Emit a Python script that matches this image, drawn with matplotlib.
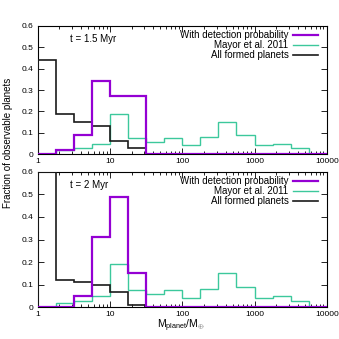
import matplotlib
matplotlib.use('Agg')
import matplotlib.pyplot as plt
from matplotlib.ticker import LogLocator, NullFormatter, FixedLocator

plt.rcParams['font.family'] = ['Liberation Sans', 'DejaVu Sans']
plt.rcParams['mathtext.fontset'] = 'custom'
plt.rcParams['mathtext.rm'] = 'Liberation Sans'

# bin edges in planet mass (Earth masses), 0.25 dex wide
mass_edges = [1, 1.778, 3.162, 5.623, 10, 17.78, 31.62, 56.23, 100,
              177.8, 316.2, 562.3, 1000, 1778, 3162, 5623, 10000]

# Mayor et al. 2011 observed distribution (same in both panels)
mayor = [0, 0.02, 0.03, 0.05, 0.19, 0.077, 0.059, 0.075, 0.042,
         0.08, 0.15, 0.089, 0.042, 0.048, 0.028, 0]

# t = 1.5 Myr
detect_15 = [0, 0.02, 0.088, 0.34, 0.27, 0.27, 0, 0, 0, 0, 0, 0, 0, 0, 0, 0]
formed_15 = [0.44, 0.19, 0.15, 0.13, 0.06, 0.03, 0, 0, 0, 0, 0, 0, 0, 0, 0, 0]

# t = 2 Myr
detect_2 = [0, 0, 0.05, 0.31, 0.49, 0.15, 0, 0, 0, 0, 0, 0, 0, 0, 0, 0]
formed_2 = [0.6, 0.12, 0.11, 0.10, 0.069, 0.009, 0, 0, 0, 0, 0, 0, 0, 0, 0, 0]

panels = [('t = 1.5 Myr', detect_15, formed_15),
          ('t = 2 Myr', detect_2, formed_2)]

purple = '#9400d3'
teal = '#3cc89c'
dark = '#1a1a1a'

fig = plt.figure(figsize=(3.39, 3.39), dpi=100)
ax_top = fig.add_axes([0.111, 0.545, 0.853, 0.379])
ax_bot = fig.add_axes([0.111, 0.0935, 0.853, 0.400])

for ax, (label, detect, formed) in zip([ax_top, ax_bot], panels):
    ax.stairs(detect, mass_edges, color=purple, lw=1.6, zorder=4,
              label='With detection probability')
    ax.stairs(mayor, mass_edges, color=teal, lw=1.0, zorder=2,
              label='Mayor et al. 2011')
    ax.stairs(formed, mass_edges, color=dark, lw=1.2, zorder=3,
              label='All formed planets')

    ax.set_xscale('log')
    ax.set_xlim(1, 10000)
    ax.set_ylim(0, 0.6)
    ax.xaxis.set_major_locator(FixedLocator([1, 10, 100, 1000, 10000]))
    ax.set_xticklabels(['1', '10', '100', '1000', '10000'])
    ax.xaxis.set_minor_locator(LogLocator(base=10, subs=range(2, 10)))
    ax.xaxis.set_minor_formatter(NullFormatter())
    ax.set_yticks([0, 0.1, 0.2, 0.3, 0.4, 0.5, 0.6])
    ax.set_yticklabels(['0', '0.1', '0.2', '0.3', '0.4', '0.5', '0.6'])
    ax.tick_params(which='both', direction='in', top=True, right=True,
                   labelsize=6, pad=3, width=0.6)
    ax.tick_params(which='major', length=4)
    ax.tick_params(which='minor', length=2)
    for s in ax.spines.values():
        s.set_linewidth(0.8)

    ax.text(0.112, 0.90, label, transform=ax.transAxes, fontsize=7,
            va='center', ha='left')
    ax.legend(loc='upper right', bbox_to_anchor=(0.968, 0.965),
              frameon=False, markerfirst=False,
              fontsize=7, handlelength=2.5, labelspacing=0.0,
              borderaxespad=0.0, borderpad=0.0, handletextpad=0.5)

fig.text(0.024, 0.58, 'Fraction of observable planets', rotation=90,
         ha='center', va='center', fontsize=7)
fig.text(0.535, 0.038, r'M$_{\rm planet}$/M$_{\oplus}$', ha='center',
         va='center', fontsize=7.5)

fig.savefig('out.png', dpi=100)
